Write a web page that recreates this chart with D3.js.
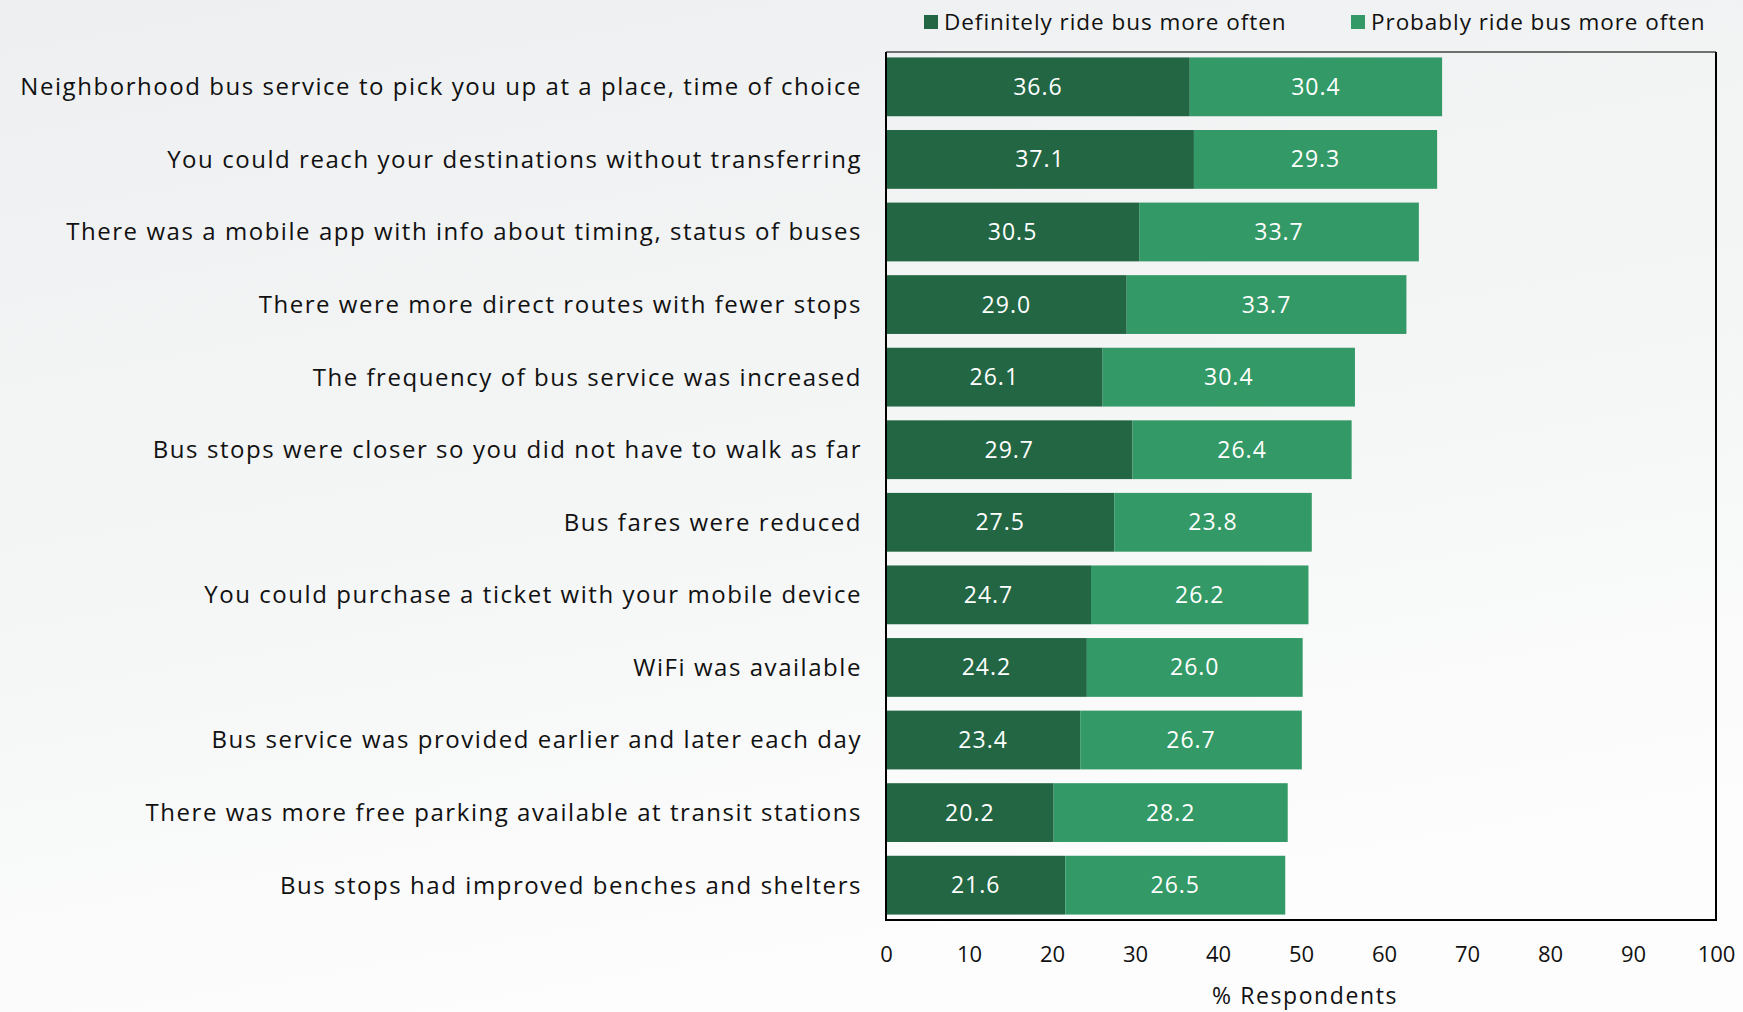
<!DOCTYPE html>
<html><head><meta charset="utf-8">
<script src="https://cdn.jsdelivr.net/npm/d3@7"></script>
<style>html,body{margin:0;padding:0;}body{width:1743px;height:1012px;overflow:hidden;}</style>
</head><body>
<svg id="chart" width="1743" height="1012"></svg>
<script>
const categories = [
  "Neighborhood bus service to pick you up at a place, time of choice",
  "You could reach your destinations without transferring",
  "There was a mobile app with info about timing, status of buses",
  "There were more direct routes with fewer stops",
  "The frequency of bus service was increased",
  "Bus stops were closer so you did not have to walk as far",
  "Bus fares were reduced",
  "You could purchase a ticket with your mobile device",
  "WiFi was available",
  "Bus service was provided earlier and later each day",
  "There was more free parking available at transit stations",
  "Bus stops had improved benches and shelters"
];
const definitely = [36.6, 37.1, 30.5, 29.0, 26.1, 29.7, 27.5, 24.7, 24.2, 23.4, 20.2, 21.6];
const probably   = [30.4, 29.3, 33.7, 33.7, 30.4, 26.4, 23.8, 26.2, 26.0, 26.7, 28.2, 26.5];
const seriesNames = ["Definitely ride bus more often", "Probably ride bus more often"];
const xTicks = [0, 10, 20, 30, 40, 50, 60, 70, 80, 90, 100];
const axisTitle = "% Respondents";

const colors = ["#226644", "#339966"];
const font = "'Open Sans', sans-serif";
const svg = d3.select("#chart");

// background
const defs = svg.append("defs");
const grad = defs.append("linearGradient").attr("id","bg").attr("x1","0").attr("y1","0").attr("x2","0.3").attr("y2","1");
grad.append("stop").attr("offset","0%").attr("stop-color","#eeeff0");
grad.append("stop").attr("offset","60%").attr("stop-color","#f5f6f6");
grad.append("stop").attr("offset","100%").attr("stop-color","#fdfdfd");
svg.append("rect").attr("width",1743).attr("height",1012).attr("fill","url(#bg)");

const L = 886, R = 1716, T = 52, B = 920;
const x = d3.scaleLinear().domain([0, 100]).range([L, R]);
const y = d3.scaleBand().domain(categories).range([T, B]).paddingInner(0.19).paddingOuter(0.075);

const rows = categories.map((c, i) => ({c, v: [definitely[i], probably[i]]}));

const g = svg.append("g");
rows.forEach(r => {
  let acc = 0;
  r.v.forEach((v, j) => {
    g.append("rect")
      .attr("x", x(acc)).attr("y", y(r.c))
      .attr("width", x(acc + v) - x(acc)).attr("height", y.bandwidth())
      .attr("fill", colors[j]);
    g.append("text")
      .attr("x", (x(acc) + x(acc + v)) / 2).attr("y", y(r.c) + y.bandwidth() / 2)
      .attr("dy", "0.35em").attr("text-anchor", "middle")
      .attr("fill", "#fff").attr("font-family", font).attr("font-size", 23)
      .attr("letter-spacing", "1px")
      .text(v.toFixed(1));
    acc += v;
  });
  svg.append("text")
    .attr("x", 862).attr("y", y(r.c) + y.bandwidth() / 2)
    .attr("dy", "0.35em").attr("text-anchor", "end")
    .attr("fill", "#111").attr("font-family", font).attr("font-size", 24)
    .attr("letter-spacing", "1.55px")
    .text(r.c);
});

// frame
svg.append("line").attr("x1", L).attr("x2", R).attr("y1", T).attr("y2", T).attr("stroke", "#444").attr("stroke-width", 1.5);
svg.append("line").attr("x1", L).attr("x2", L).attr("y1", T).attr("y2", B).attr("stroke", "#000").attr("stroke-width", 2);
svg.append("line").attr("x1", R).attr("x2", R).attr("y1", T).attr("y2", B).attr("stroke", "#000").attr("stroke-width", 2);
svg.append("line").attr("x1", L-1).attr("x2", R+1).attr("y1", B).attr("y2", B).attr("stroke", "#000").attr("stroke-width", 2);

// x axis
const xAxis = d3.axisBottom(x).tickValues(xTicks).tickSize(0).tickPadding(0).tickFormat(d3.format("d"));
const ax = svg.append("g").attr("transform", `translate(0,${B + 34})`).call(xAxis);
ax.select(".domain").remove();
ax.selectAll("text").attr("font-family", font).attr("font-size", 22).attr("fill", "#111").attr("dy", "0.35em").attr("y", 0);

svg.append("text").attr("x", (L + R) / 2 + 4).attr("y", 996).attr("dy", "0.35em")
  .attr("text-anchor", "middle").attr("font-family", font).attr("font-size", 23).attr("fill", "#111")
  .attr("letter-spacing", "1.6px")
  .text(axisTitle);

// legend
const legX = [924, 1351];
seriesNames.forEach((n, j) => {
  svg.append("rect").attr("x", legX[j]).attr("y", 15).attr("width", 14).attr("height", 14).attr("fill", colors[j]);
  svg.append("text").attr("x", legX[j] + 20).attr("y", 22).attr("dy", "0.35em")
    .attr("font-family", font).attr("font-size", 22.5).attr("fill", "#111").attr("letter-spacing", "0.95px")
    .text(n);
});
</script>
</body></html>
